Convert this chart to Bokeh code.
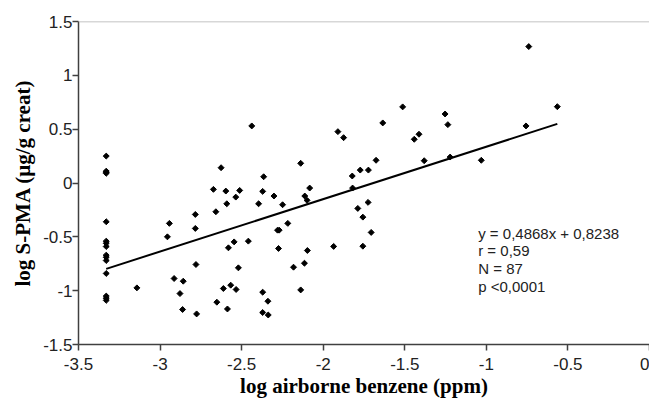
import math
from bokeh.plotting import figure
from bokeh.models import FixedTicker, CustomJSTickFormatter, Label, Span
from bokeh.embed import file_html
from bokeh.resources import INLINE

# ---- data ----
benzene = [
    -3.33, -3.33, -3.33, -3.33, -3.33, -3.33, -3.33, -3.33, -3.33, -3.33,
    -3.33, -3.33, -3.33, -3.33, -3.33,
    -3.142, -2.955, -2.943, -2.914, -2.858, -2.878, -2.862, -2.784, -2.784, -2.780,
    -2.776, -2.626, -2.673, -2.597, -2.591, -2.658, -2.581, -2.612, -2.652, -2.587,
    -2.536, -2.512, -2.546, -2.459, -2.520, -2.567, -2.534, -2.438, -2.365, -2.371,
    -2.396, -2.302, -2.249, -2.217, -2.280, -2.270, -2.274, -2.371, -2.339, -2.371,
    -2.337, -2.138, -2.083, -2.113, -2.099, -2.097, -2.115, -2.182, -2.138, -1.936,
    -1.822, -1.773, -1.723, -1.820, -1.788, -1.757, -1.757, -1.875, -1.910, -1.725,
    -1.706, -1.676, -1.635, -1.513, -1.442, -1.413, -1.381, -1.253, -1.236, -1.222,
    -1.031, -0.740, -0.757, -0.565,
]
spma = [
    0.25, 0.11, 0.10, 0.09, -0.36, -0.54, -0.56, -0.59, -0.67, -0.69,
    -0.72, -0.84, -1.05, -1.07, -1.09,
    -0.974, -0.500, -0.375, -0.887, -0.912, -1.027, -1.175, -0.292, -0.422, -0.757,
    -1.216, 0.142, -0.059, -0.075, -0.193, -0.267, -0.602, -0.980, -1.107, -1.170,
    -0.131, -0.069, -0.547, -0.540, -0.788, -0.949, -0.989, 0.530, 0.058, -0.078,
    -0.193, -0.121, -0.202, -0.375, -0.438, -0.438, -0.608, -1.014, -1.098, -1.203,
    -1.226, 0.183, -0.047, -0.121, -0.161, -0.627, -0.745, -0.782, -0.993, -0.589,
    0.065, 0.120, 0.120, -0.047, -0.236, -0.317, -0.587, 0.421, 0.477, -0.180,
    -0.459, 0.211, 0.558, 0.707, 0.406, 0.453, 0.207, 0.641, 0.542, 0.241,
    0.211, 1.267, 0.530, 0.709,
]
slope = 0.4868
intercept = 0.8238
x_ticks = [-3.5, -3.0, -2.5, -2.0, -1.5, -1.0, -0.5, 0.0]
y_ticks = [-1.5, -1.0, -0.5, 0.0, 0.5, 1.0, 1.5]
stats_lines = ["y = 0,4868x + 0,8238", "r = 0,59", "N = 87", "p <0,0001"]
x_title = "log airborne benzene (ppm)"
y_title = "log S-PMA (µg/g creat)"

p = figure(width=649, height=401, x_range=(-3.5, 0.0), y_range=(-1.5, 1.5),
           output_backend="svg", toolbar_location=None,
           min_border_left=78, min_border_right=0, min_border_top=21, min_border_bottom=57)
p.outline_line_color = None
p.xgrid.visible = False
p.ygrid.visible = False
p.background_fill_color = "white"
p.border_fill_color = "white"

fmt = CustomJSTickFormatter(code="return tick.toString();")
for ax, ticks in ((p.xaxis, x_ticks), (p.yaxis, y_ticks)):
    ax.ticker = FixedTicker(ticks=ticks)
    ax.formatter = fmt
    ax.axis_line_color = "#404040"
    ax.axis_line_width = 1.5
    ax.major_tick_line_color = "#404040"
    ax.major_tick_line_width = 1.5
    ax.major_tick_out = 6
    ax.major_tick_in = 0
    ax.minor_tick_line_color = None
    ax.major_label_text_font = "Liberation Sans"
    ax.major_label_text_font_size = "17px"
    ax.major_label_text_color = "#222222"
    ax.axis_label_text_font = "Liberation Serif"
    ax.axis_label_text_font_style = "bold"
    ax.axis_label_text_font_size = "21px"
    ax.axis_label_text_color = "black"

p.xaxis.axis_label = x_title
p.yaxis.axis_label = y_title
p.xaxis.major_label_standoff = 7
p.xaxis.axis_label_standoff = 1
p.yaxis.major_label_standoff = 0
p.yaxis.axis_label_standoff = 5

p.add_layout(Span(location=1.5, dimension="width", line_color="#b0b0b0", line_width=1.5))

x0, x1 = min(benzene), max(benzene)
p.line([x0, x1], [slope * x0 + intercept, slope * x1 + intercept], line_color="black", line_width=2)
p.scatter(benzene, spma, marker="square", angle=math.pi / 4, size=4.2,
          fill_color="black", line_color="black")

for i, t in enumerate(stats_lines):
    p.add_layout(Label(x=-1.05, y=-0.466, y_offset=-17.7 * i, text=t,
                       text_font="Liberation Sans", text_font_size="15px",
                       text_color="#222222", text_baseline="middle", text_align="left"))

open("out.html", "w").write(file_html(p, INLINE))
